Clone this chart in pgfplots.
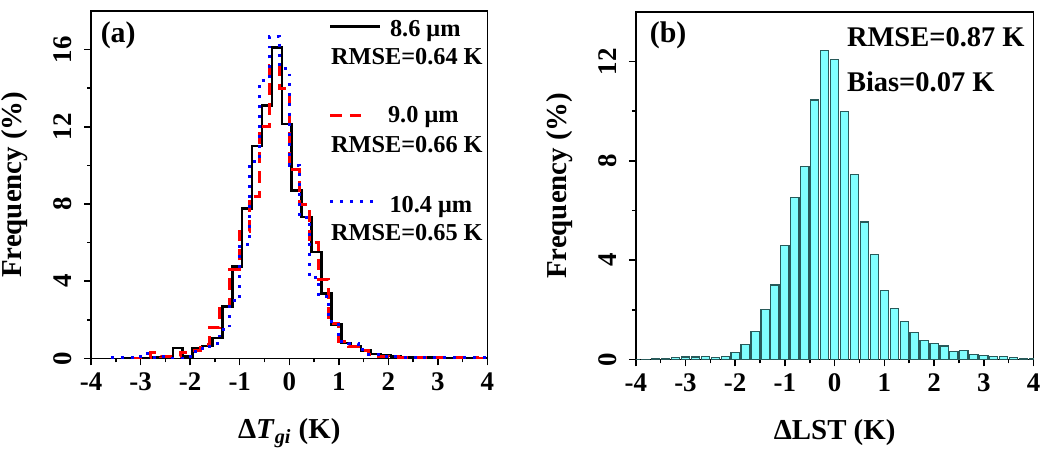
\documentclass[border=0pt]{standalone}
\usepackage{fontspec}
\setmainfont{Liberation Serif}
\usepackage{pgfplots}
\pgfplotsset{compat=1.18}
\definecolor{barfill}{RGB}{128,255,255}
\definecolor{baredge}{RGB}{40,90,90}
\definecolor{myred}{RGB}{255,0,0}
\definecolor{myblue}{RGB}{0,0,255}
\pgfplotstableread{
x y
-3.35 0.02
-3.15 0.03
-2.95 0.03
-2.75 0.04
-2.55 0.05
-2.35 0.55
-2.15 0.09
-1.95 0.52
-1.75 0.64
-1.55 1.07
-1.35 2.68
-1.15 4.75
-0.95 7.76
-0.75 11.0
-0.55 13.1
-0.35 16.1
-0.15 12.15
0.05 8.7
0.25 7.33
0.45 5.52
0.65 3.37
0.85 1.76
1.05 0.81
1.25 0.64
1.45 0.41
1.65 0.24
1.85 0.14
2.05 0.10
2.25 0.08
2.45 0.06
2.65 0.05
2.85 0.04
3.05 0.03
3.25 0.03
3.45 0.02
3.65 0.02
3.85 0.02
4.05 0.02
}\blackdata
\pgfplotstableread{
x y
-3.2 0.02
-3.0 0.05
-2.8 0.30
-2.6 0.09
-2.4 0.10
-2.2 0.30
-2.0 0.40
-1.8 0.70
-1.6 1.60
-1.4 2.67
-1.2 4.60
-1.0 6.60
-0.8 8.40
-0.6 12.0
-0.4 15.2
-0.2 14.0
0.0 9.8
0.2 8.0
0.4 6.0
0.6 4.1
0.8 1.8
1.0 0.9
1.2 0.6
1.4 0.4
1.6 0.18
1.8 0.10
2.0 0.08
2.2 0.06
2.4 0.05
2.6 0.05
2.8 0.04
3.0 0.04
3.2 0.03
3.4 0.03
3.6 0.03
3.8 0.02
4.0 0.02
}\reddata
\pgfplotstableread{
x y
-3.6 0.03
-3.4 0.03
-3.2 0.03
-3.0 0.25
-2.8 0.07
-2.6 0.10
-2.4 0.02
-2.2 0.02
-2.0 0.38
-1.8 0.50
-1.6 0.75
-1.4 1.50
-1.2 3.00
-1.0 5.90
-0.8 10.2
-0.6 14.4
-0.4 16.7
-0.2 15.0
0.0 10.0
0.2 7.3
0.4 4.2
0.6 3.2
0.8 1.9
1.0 0.9
1.2 0.8
1.4 0.45
1.6 0.20
1.8 0.10
2.0 0.08
2.2 0.06
2.4 0.06
2.6 0.05
2.8 0.05
3.0 0.04
3.2 0.04
3.4 0.03
3.6 0.03
3.8 0.03
4.0 0.03
}\bluedata
\pgfplotstableread{
x y
-4.0 0.01
-3.8 0.01
-3.6 0.05
-3.4 0.02
-3.2 0.08
-3.0 0.10
-2.8 0.10
-2.6 0.11
-2.4 0.08
-2.2 0.13
-2.0 0.29
-1.8 0.61
-1.6 1.11
-1.4 2.01
-1.2 3.00
-1.0 4.58
-0.8 6.54
-0.6 7.77
-0.4 10.45
-0.2 12.44
0.0 12.09
0.2 9.99
0.4 7.45
0.6 5.54
0.8 4.24
1.0 2.77
1.2 2.06
1.4 1.54
1.6 1.10
1.8 0.76
2.0 0.63
2.2 0.54
2.4 0.33
2.6 0.36
2.8 0.21
3.0 0.16
3.2 0.13
3.4 0.11
3.6 0.07
3.8 0.05
4.0 0.05
}\bardata
\begin{document}
\begin{tikzpicture}
\useasboundingbox (-45.75pt,-46pt) rectangle (477pt,180pt);
\pgfplotsset{
  myax/.style={
    scale only axis,
    height=174.5pt,
    xmin=-4, xmax=4,
    xtick={-4,-3,-2,-1,0,1,2,3,4},
    xticklabels={-4,-3,-2,-1,0,1,2,3,4},
    minor x tick num=1,
    minor y tick num=1,
    tick align=outside,
    xtick pos=left, ytick pos=left,
    major tick length=3.5pt, minor tick length=2pt,
    line width=0.75pt,
    every tick/.style={black, line width=0.75pt},
    ticklabel style={font=\fontsize{13.5}{15}\selectfont\bfseries},
    yticklabel style={rotate=90, anchor=south},
    yticklabel shift=2.5pt,
    label style={font=\fontsize{14.5}{16}\selectfont\bfseries},
    xlabel style={yshift=-7pt},
    ylabel style={yshift=6pt},
    /pgf/number format/assume math mode=true,
    ymin=0,
  }
}
\begin{axis}[myax, at={(0pt,0pt)}, anchor=south west, width=199pt,
  ymax=18, ytick={0,4,8,12,16},
  xlabel={Δ\textit{T}\textsubscript{\textit{gi}} (K)},
  ylabel={Frequency (\%)}]
\addplot[const plot, black, line width=1.3pt] table {\blackdata};
\addplot[const plot, myred, line width=1.5pt, dash pattern=on 5.8pt off 4pt] table {\reddata};
\addplot[const plot, myblue, line width=1.5pt, dash pattern=on 1.5pt off 3.5pt] table {\bluedata};
\node[anchor=base west, inner sep=0pt, font=\fontsize{15}{17}\selectfont\bfseries] at (axis cs:-3.82,16.36) {(a)};
\draw[black, line width=1.3pt] (axis cs:0.83,17.19) -- (axis cs:1.835,17.19);
\node[anchor=base west, inner sep=0pt, font=\fontsize{12.2}{14}\selectfont\bfseries] at (axis cs:2.02,16.69) {8.6 μm};
\node[anchor=base west, inner sep=0pt, font=\fontsize{12.2}{14}\selectfont\bfseries] at (axis cs:0.83,15.23) {RMSE=0.64 K};
\draw[myred, line width=1.5pt, dash pattern=on 5.8pt off 4pt] (axis cs:0.83,12.59) -- (axis cs:1.52,12.59);
\node[anchor=base west, inner sep=0pt, font=\fontsize{12.2}{14}\selectfont\bfseries] at (axis cs:1.98,12.22) {9.0 μm};
\node[anchor=base west, inner sep=0pt, font=\fontsize{12.2}{14}\selectfont\bfseries] at (axis cs:0.83,10.67) {RMSE=0.66 K};
\draw[myblue, line width=1.5pt, dash pattern=on 1.5pt off 3.5pt] (axis cs:0.83,8.12) -- (axis cs:1.74,8.12);
\node[anchor=base west, inner sep=0pt, font=\fontsize{12.2}{14}\selectfont\bfseries] at (axis cs:2.01,7.57) {10.4 μm};
\node[anchor=base west, inner sep=0pt, font=\fontsize{12.2}{14}\selectfont\bfseries] at (axis cs:0.83,6.11) {RMSE=0.65 K};
\end{axis}
\begin{axis}[myax, at={(273.5pt,-0.5pt)}, anchor=south west, width=199.75pt,
  ymax=14, ytick={0,4,8,12},
  xlabel={ΔLST (K)},
  ylabel={Frequency (\%)}]
\addplot[ybar, bar width=0.165, fill=barfill, draw=baredge, line width=0.6pt] table {\bardata};
\node[anchor=base west, inner sep=0pt, font=\fontsize{15}{17}\selectfont\bfseries] at (axis cs:-3.73,12.76) {(b)};
\node[anchor=base west, inner sep=0pt, font=\fontsize{14.3}{16}\selectfont\bfseries] at (axis cs:0.234,12.61) {RMSE=0.87 K};
\node[anchor=base west, inner sep=0pt, font=\fontsize{14.3}{16}\selectfont\bfseries] at (axis cs:0.234,10.8) {Bias=0.07 K};
\end{axis}
\end{tikzpicture}
\end{document}
